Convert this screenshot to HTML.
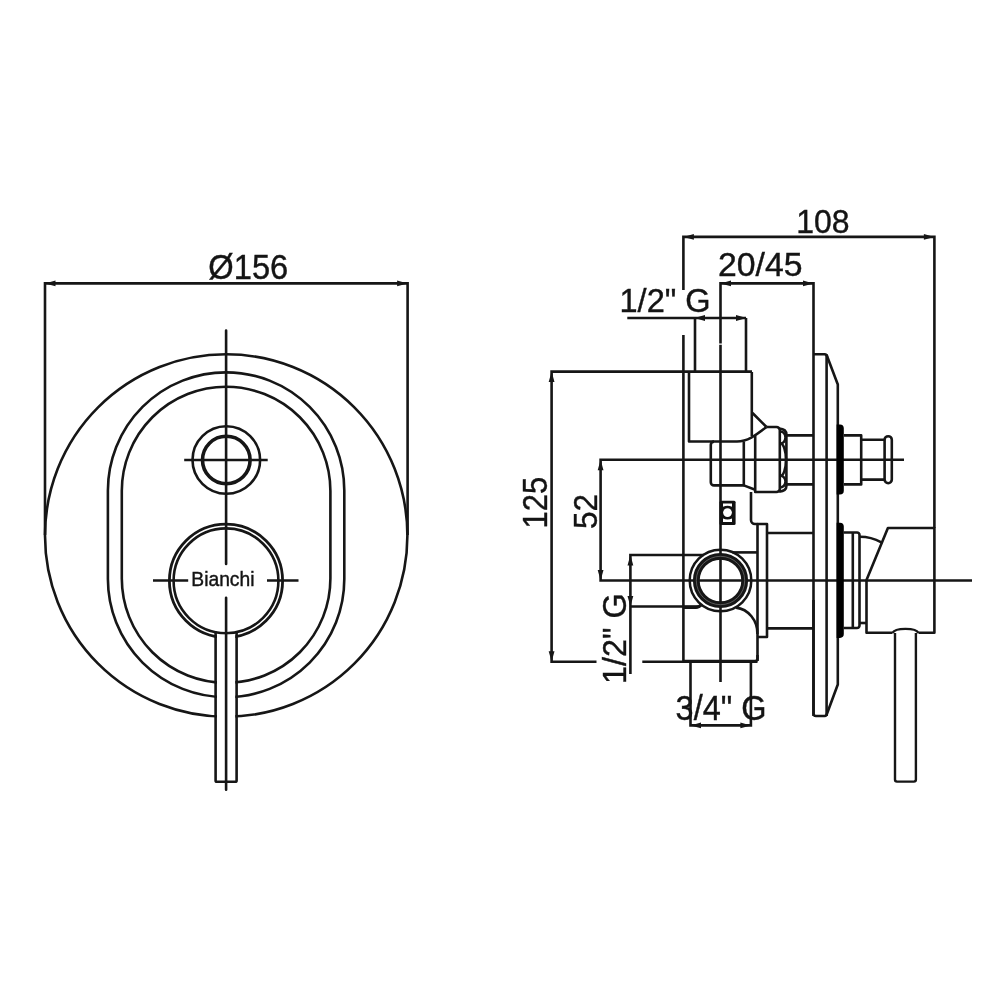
<!DOCTYPE html>
<html><head><meta charset="utf-8">
<style>
html,body{margin:0;padding:0;background:#fff;width:1000px;height:1000px;overflow:hidden}
svg{display:block;will-change:transform}
text{font-family:"Liberation Sans",sans-serif;fill:#141414;stroke:#141414;stroke-width:0.4}
</style></head><body>
<svg width="1000" height="1000" viewBox="0 0 1000 1000">
<rect width="1000" height="1000" fill="#fff"/>
<g fill="none" stroke="#161616" stroke-width="2.6" stroke-linecap="butt" stroke-linejoin="miter" stroke-miterlimit="4">
<path d="M45 535V283.4H407.6V535"/>
<circle cx="226.2" cy="535.5" r="181.2"/>
<path d="M107.9 490.5A118.2 118.2 0 0 1 344.3 490.5V579A118.2 118.2 0 0 1 107.9 579Z"/>
<path d="M121.8 491A104.3 104.3 0 0 1 330.4 491V578.5A104.3 104.3 0 0 1 121.8 578.5Z"/>
<circle cx="226.3" cy="460" r="33.8"/>
<circle cx="226.3" cy="460" r="23.8" stroke-width="3.6"/>
<path d="M184.2 460H267.7"/>
<circle cx="226" cy="580.8" r="56.6" stroke-width="2.8"/>
<circle cx="226" cy="580.8" r="52.4"/>
<path d="M153 580.5H188.2M267 580.5H298.5"/>
</g>
<rect x="217" y="634.8" width="18.3" height="145.5" fill="#fff"/>
<g fill="none" stroke="#161616" stroke-width="2.6" stroke-linecap="butt" stroke-linejoin="round">
<path d="M215.6 631.5V780.5a1.3 1.3 0 0 0 1.3 1.3H235.3a1.3 1.3 0 0 0 1.3 -1.3V631.5"/>
<path d="M226.1 330.6V564M226.1 597.8V789.8" stroke-linecap="round"/>
</g>
<g fill="#161616" stroke="none">
<path d="M45 283.4l10.5 -2.9v5.8z"/>
<path d="M407.6 283.4l-10.5 -2.9v5.8z"/>
</g>
<g fill="none" stroke="#161616" stroke-width="2.6" stroke-linecap="butt" stroke-linejoin="miter" stroke-miterlimit="4">
<path d="M683.4 290V236.9H934.4V528"/>
<path d="M683.4 335V661"/>
<path d="M720.5 682V344.7M720.5 343.5V283.4H813.5V716"/>
<path d="M627.3 318H746M695 318V371.6M746 318V371.6"/>
<path d="M752 371.6H551.6V661.8H596.5M642.3 661.8H757.5"/>
<path d="M904 459.7H600.6V580.5H972"/>
<path d="M704 555H630.4V674M630.4 606.5H700"/>
<path d="M690.5 661V725.4H750.9V661"/>
</g>
<g fill="none" stroke="#161616" stroke-width="2.6" stroke-linecap="butt" stroke-linejoin="round">
<path d="M689 372V441.5H737C748 441.5 756 435 766.5 427"/>
<path d="M751.8 372V436M752.5 413L766.5 427"/>
<path d="M743.8 441.5V485.4H714a3.2 3.2 0 0 1 -3.2 -3.2V444.8a3.2 3.2 0 0 1 3.2 -3.2"/>
<path d="M743.8 485.4L755.2 489.8"/>
<path d="M766.5 427H776.5a3.3 3.3 0 0 1 3.3 3.3V488.7a3.3 3.3 0 0 1 -3.3 3.3H755.2V436"/>
<path d="M779.2 428.5Q786.4 429 786.4 434.5V486Q786.4 491 779.2 491.6"/>
<path d="M780.5 431.5A5 6 0 0 1 780.5 443.5A5.5 16.15 0 0 1 780.5 475.8A5 5.8 0 0 1 780.5 487.4"/>
<path d="M786 435.4H813.5M786 484.4H813.5"/>
<path d="M751 492V520a4 4 0 0 0 4 4H757.5V661"/>
<path d="M757.5 524H767V637H757.5"/>
<path d="M767 533H813.5M767 628.4H813.5"/>
<path d="M732.4 552.4H757.5"/>
<path d="M736 607.6A24 26 0 0 1 757.4 634"/>
<path d="M683.4 661H755a2.5 2.5 0 0 0 2.5 -2.5V655"/>
<circle cx="720.5" cy="580.5" r="30.8" stroke-width="2.5"/>
<circle cx="720.5" cy="580.5" r="24.2" stroke-width="6.8"/>
<circle cx="720.5" cy="580.5" r="24.2" stroke-width="0.8" stroke="#6a6a6a"/>
<path d="M683.4 607.4H696Q699 607.4 701.5 604.5" stroke-width="3.4"/>
<rect x="719.5" y="500.7" width="16.1" height="24.2" rx="1.5" fill="#111" stroke="none"/>
<path d="M723 503.5H732V506.8Q727.5 504.6 723 506.8Z" fill="#fff" stroke="none"/>
<path d="M723 521.9H732V518.5Q727.5 520.7 723 518.5Z" fill="#fff" stroke="none"/>
<circle cx="727.5" cy="512.6" r="4.4" fill="#fff" stroke="none"/>
<path d="M813.5 600V713.5a2.5 2.5 0 0 0 2.5 2.5H824.5a2.5 2.5 0 0 0 2 -1L837.8 684.5V384.5L827.3 356.8a3 3 0 0 0 -2.8 -2.5H813.5"/>
<path d="M826.6 354.5V716"/>
<path d="M844 435.4H861.2V484.4H844"/>
<path d="M861.2 439.8H884.6M861.2 479.6H884.6"/>
<rect x="884.6" y="436.2" width="7.2" height="47" rx="3.6"/>
<path d="M843.7 532.5H857a2.5 2.5 0 0 1 2.5 2.5V625.5a2.5 2.5 0 0 1 -2.5 2.5H843.7"/>
<path d="M852.8 532.5V628.1"/>
<path d="M860 536.8Q871 536.8 881.4 542.3"/>
<path d="M860 623H866.5"/>
<path d="M918.5 632.8H934.4V528H887.9L866.5 580V632.8H892.5"/>
</g>
<rect x="896" y="634.2" width="18.5" height="146" fill="#fff"/>
<g fill="none" stroke="#161616" stroke-width="2.4" stroke-linecap="butt" stroke-linejoin="round">
<path d="M895 633V779.6a2 2 0 0 0 2 2H913.9a2 2 0 0 0 2 -2V633"/>
<path d="M892.5 633C895 627.5 916 627.5 918.5 633"/>
</g>
<g fill="#000" stroke="none">
<path d="M836.6 424.4H840a3.8 3.8 0 0 1 3.8 3.8V490.8a3.8 3.8 0 0 1 -3.8 3.8H836.6Z"/>
<path d="M836.6 522.8H840a3.8 3.8 0 0 1 3.8 3.8V634.1a3.8 3.8 0 0 1 -3.8 3.8H836.6Z"/>
</g>
<g fill="#161616" stroke="none">
<path d="M683.4 236.9l10.5 -2.9v5.8z"/>
<path d="M934.4 236.9l-10.5 -2.9v5.8z"/>
<path d="M720.5 283.4l10.5 -2.9v5.8z"/>
<path d="M813.5 283.4l-10.5 -2.9v5.8z"/>
<path d="M694.5 318l10.5 -2.9v5.8z"/>
<path d="M746.5 318l-10.5 -2.9v5.8z"/>
<path d="M551.6 371.6l-2.9 10.5h5.8z"/>
<path d="M551.6 661.8l-2.9 -10.5h5.8z"/>
<path d="M600.6 459.7l-2.9 10.5h5.8z"/>
<path d="M600.6 580.5l-2.9 -10.5h5.8z"/>
<path d="M630.4 555l-2.9 10.5h5.8z"/>
<path d="M630.4 606.5l-2.9 -10.5h5.8z"/>
<path d="M690.5 725.4l10.5 -2.9v5.8z"/>
<path d="M750.9 725.4l-10.5 -2.9v5.8z"/>
</g>
<g class="t">
<text x="208.30" y="278.60" font-size="34.38" textLength="79.93" lengthAdjust="spacingAndGlyphs">Ø156</text>
<text x="796.25" y="233.10" font-size="33.75" textLength="53.32" lengthAdjust="spacingAndGlyphs">108</text>
<text x="718.00" y="275.60" font-size="33.2" textLength="84.51" lengthAdjust="spacingAndGlyphs">20/45</text>
<text x="619.50" y="312.00" font-size="33.96" textLength="91.12" lengthAdjust="spacingAndGlyphs">1/2" G</text>
<text x="675.60" y="720.40" font-size="35.24" textLength="90.92" lengthAdjust="spacingAndGlyphs">3/4" G</text>
<text x="191.30" y="586.30" font-size="19.71" textLength="63.21" lengthAdjust="spacingAndGlyphs">Bianchi</text>
<text transform="translate(547.00 528.50) rotate(-90)" font-size="35.82" textLength="51.60" lengthAdjust="spacingAndGlyphs">125</text>
<text transform="translate(596.50 529.00) rotate(-90)" font-size="33.66" textLength="35.04" lengthAdjust="spacingAndGlyphs">52</text>
<text transform="translate(626.25 683.90) rotate(-90)" font-size="33.65" textLength="90.49" lengthAdjust="spacingAndGlyphs">1/2" G</text>
</g>
</svg>
</body></html>
